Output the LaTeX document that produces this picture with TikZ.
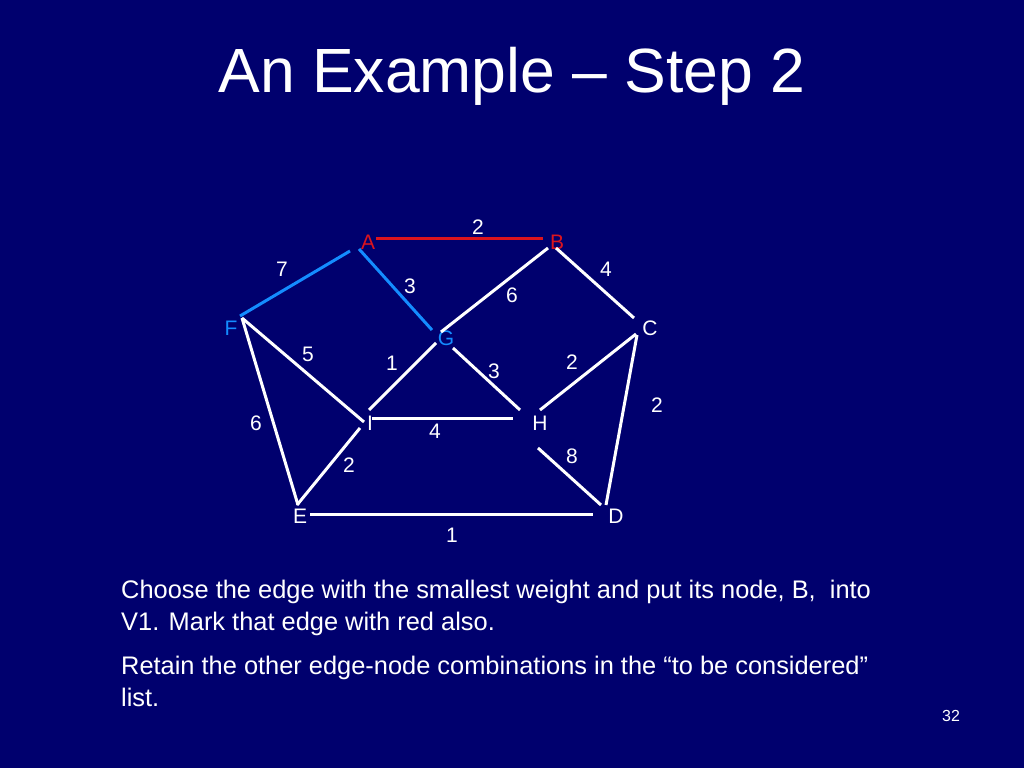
\documentclass[tikz,border=0pt]{standalone}
\usepackage{fontspec}
\setmainfont{Liberation Sans}
\definecolor{bg}{RGB}{0,0,110}
\definecolor{sel}{RGB}{20,140,255}
\definecolor{rd}{RGB}{220,20,30}
\begin{document}
\begin{tikzpicture}[x=1pt,y=-1pt,
 e/.style={line width=3pt,white},
 lab/.style={text=white,font=\fontsize{21}{23}\selectfont,inner sep=0pt},
 vx/.style={font=\fontsize{21}{23}\selectfont,inner sep=0pt},
 body/.style={text=white,font=\fontsize{25.4}{31.5}\selectfont,anchor=north west,align=left,inner sep=0pt}]
\fill[bg] (0,0) rectangle (1024,768);
\useasboundingbox (0,0) rectangle (1024,768);
\node[text=white,font=\fontsize{62.5}{64}\selectfont] (title) at (512,76) {An Example -- Step 2};
% vertices
\node[vx,text=rd] (A) at (368,242) {A};
\node[vx,text=rd] (B) at (557,242) {B};
\node[vx,text=white] (C) at (650,328) {C};
\node[vx,text=sel] (F) at (231,328) {F};
\node[vx,text=sel] (G) at (446,338) {G};
\node[vx,text=white] (I) at (370,423) {I};
\node[vx,text=white] (H) at (540,423) {H};
\node[vx,text=white] (E) at (300,516) {E};
\node[vx,text=white] (D) at (616,516) {D};
% edges
\draw[line width=3pt,rd] (376,238) -- (543,238);
\draw[line width=3pt,sel] (350,251) -- (240,316);
\draw[line width=3pt,sel] (359,249) -- (432,330);
\draw[e] (548,248) -- (441,332);
\draw[e] (556,248) -- (634,318);
\draw[e] (242,318) -- (364,422);
\draw[e] (242,318) -- (298,505);
\draw[e] (436,343) -- (369,410);
\draw[e] (453,348) -- (520,410);
\draw[e] (372,418) -- (513,418);
\draw[e] (360,428) -- (297,505);
\draw[e] (636,334) -- (540,410);
\draw[e] (637,335) -- (606,505);
\draw[e] (538,448) -- (601,505);
\draw[e] (310,514) -- (593,514);
% weights
\node[lab] (w1) at (478,227) {2};
\node[lab] (w2) at (282,269) {7};
\node[lab] (w3) at (606,269) {4};
\node[lab] (w4) at (410,286) {3};
\node[lab] (w5) at (512,295) {6};
\node[lab] (w6) at (308,354) {5};
\node[lab] (w7) at (392,363) {1};
\node[lab] (w8) at (494,371) {3};
\node[lab] (w9) at (572,362) {2};
\node[lab] (w10) at (657,405) {2};
\node[lab] (w11) at (256,423) {6};
\node[lab] (w12) at (435,431) {4};
\node[lab] (w13) at (572,456) {8};
\node[lab] (w14) at (349,465) {2};
\node[lab] (w15) at (452,535) {1};
% text
\node[body] (t1) at (121,580) {Choose the edge with the smallest weight and put its node, B,\ \ into\\V1. Mark that edge with red also.};
\node[body] (t2) at (121,656) {Retain the other edge-node combinations in the “to be considered”\\list.};
\node[text=white,font=\fontsize{16}{18}\selectfont] (pg) at (951,716) {32};
\end{tikzpicture}
\end{document}
